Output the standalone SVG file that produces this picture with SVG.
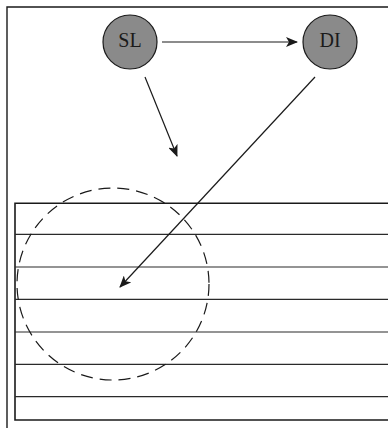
<svg xmlns="http://www.w3.org/2000/svg" width="388" height="428" viewBox="0 0 388 428">
  <style>
    .frame { fill: none; stroke: #1a1a1a; stroke-width: 1.4; }
    .row { stroke: #2a2a2a; stroke-width: 1.2; }
    .node { fill: #8a8a8a; stroke: #1a1a1a; stroke-width: 1.2; }
    .label { font-family: "Liberation Serif", serif; font-size: 20px; fill: #1a1a1a; text-anchor: middle; }
    .edge { stroke: #1a1a1a; stroke-width: 1.2; fill: none; marker-end: url(#arrow); }
    .region { fill: none; stroke: #1a1a1a; stroke-width: 1.2; stroke-dasharray: 12 7; }
  </style>
  <defs>
    <marker id="arrow" viewBox="0 0 12 10" refX="11" refY="5" markerWidth="12" markerHeight="10" markerUnits="userSpaceOnUse" orient="auto">
      <path d="M0,0 L12,5 L0,10 L3,5 Z" fill="#1a1a1a"/>
    </marker>
  </defs>
  <rect width="388" height="428" fill="#ffffff"/>

  <!-- outer frame -->
  <path class="frame" d="M7,428 L7,7 L388,7"/>

  <!-- striped panel -->
  <g id="panel">
    <path class="frame" d="M388,203.3 L15,203.3 L15,420 L388,420" style="stroke-width:1.6"/>
    <line class="row" x1="15" y1="234.3" x2="388" y2="234.3"/>
    <line class="row" x1="15" y1="267" x2="388" y2="267"/>
    <line class="row" x1="15" y1="299.3" x2="388" y2="299.3"/>
    <line class="row" x1="15" y1="332" x2="388" y2="332"/>
    <line class="row" x1="15" y1="364.3" x2="388" y2="364.3"/>
    <line class="row" x1="15" y1="396.7" x2="388" y2="396.7"/>
  </g>

  <!-- dashed region -->
  <circle id="region" class="region" cx="113" cy="284" r="96"/>

  <g id="SL">
    <circle class="node" cx="130" cy="42" r="27"/>
    <text class="label" x="130" y="47">SL</text>
  </g>
  <g id="DI">
    <circle class="node" cx="330" cy="42" r="27"/>
    <text class="label" x="330" y="47">DI</text>
  </g>

  <g id="connectors">
    <line class="edge" x1="162" y1="42" x2="297" y2="42"/>
    <line class="edge" x1="145" y1="77" x2="177" y2="156"/>
    <line class="edge" x1="315" y1="77" x2="120" y2="287"/>
  </g>
</svg>
